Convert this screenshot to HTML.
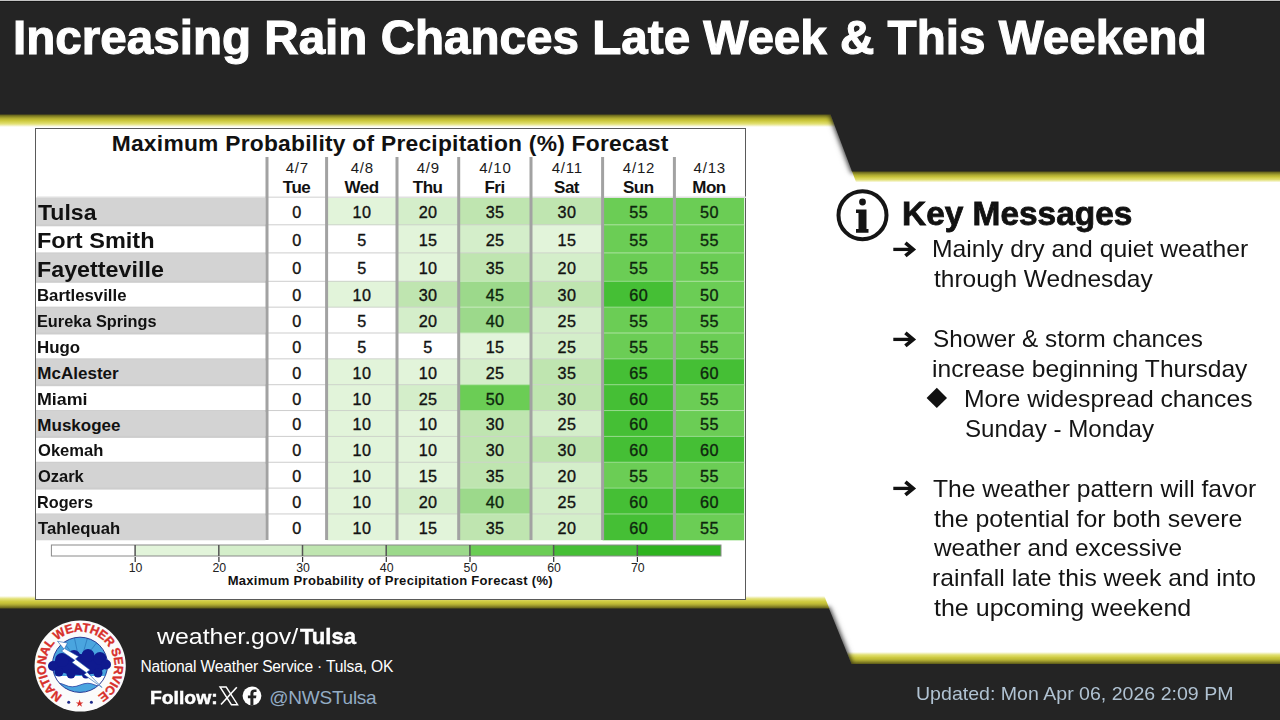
<!DOCTYPE html>
<html><head><meta charset="utf-8">
<style>
html,body{margin:0;padding:0;}
body{width:1280px;height:720px;overflow:hidden;position:relative;background:#fff;font-family:"Liberation Sans",sans-serif;}
.a{position:absolute;white-space:nowrap;line-height:1;}
b{font-weight:bold;}
</style></head><body>
<svg class="a" style="left:0;top:0" width="1280" height="720" viewBox="0 0 1280 720">
<defs>
<linearGradient id="yh" x1="0" y1="0" x2="0" y2="1">
<stop offset="0" stop-color="#c6c136"/><stop offset="0.55" stop-color="#d0cc3e"/><stop offset="0.78" stop-color="#e2e074"/><stop offset="1" stop-color="#ffffff"/>
</linearGradient>
<linearGradient id="yf" x1="0" y1="0" x2="0" y2="1">
<stop offset="0" stop-color="#ffffff"/><stop offset="0.22" stop-color="#e2e074"/><stop offset="0.45" stop-color="#d0cc3e"/><stop offset="1" stop-color="#c6c136"/>
</linearGradient>
<filter id="sh" x="-10%" y="-20%" width="120%" height="140%"><feGaussianBlur stdDeviation="2.2"/></filter><filter id="sh2" x="-10%" y="-20%" width="120%" height="140%"><feGaussianBlur stdDeviation="4"/></filter>
</defs>
<polygon points="0,113 830,113 835.3,127 0,127" fill="url(#yh)"/>
<polygon points="851.5,170 1280,170 1280,182.5 856.2,182.5" fill="url(#yh)"/>
<polygon points="-10,-10 1290,-10 1290,171.5 852,171.5 830.5,114.5 -10,114.5" fill="#000" opacity="0.3" filter="url(#sh2)"/><polygon points="-10,-10 1290,-10 1290,173 851,173 829.5,116 -10,116" fill="#000" opacity="0.6" filter="url(#sh)"/>
<polygon points="0,0 1280,0 1280,171.5 852,171.5 830.5,114.5 0,114.5" fill="#242424"/>
<polygon points="0,596 824.3,596 829.5,609 0,609" fill="url(#yf)"/>
<polygon points="846.6,652 1280,652 1280,665 851.8,665" fill="url(#yf)"/>
<polygon points="-10,608.5 829,608.5 851.5,664 1290,664 1290,730 -10,730" fill="#000" opacity="0.3" filter="url(#sh2)"/><polygon points="-10,607 830,607 852.5,662.5 1290,662.5 1290,730 -10,730" fill="#000" opacity="0.6" filter="url(#sh)"/>
<polygon points="0,608.5 829,608.5 851.5,664 1280,664 1280,720 0,720" fill="#242424"/>
</svg>
<div class="a" style="left:12.91px;top:13.57px;font-size:48px;color:#fff;font-weight:bold;transform:scaleX(0.9915);transform-origin:0 0;-webkit-text-stroke:1.1px #fff;">Increasing Rain Chances Late Week &amp; This Weekend</div>
<div class="a" style="left:0;top:0;width:1280px;height:1px;background:#c4c4c4"></div><div class="a" style="left:0;top:1px;width:1280px;height:1px;background:#161616"></div>
<div class="a" style="left:35px;top:128px;width:709px;height:470px;border:1px solid #5a5a5a;background:#fff;"></div>
<svg class="a" style="left:0;top:0" width="1280" height="720" viewBox="0 0 1280 720">
<rect x="36" y="197.5" width="229.5" height="27.80000000000001" fill="#d3d3d3"/>
<rect x="267" y="197.5" width="59.60000000000002" height="27.80000000000001" fill="#ffffff"/>
<rect x="326.6" y="197.5" width="70.39999999999998" height="27.80000000000001" fill="#e2f4da"/>
<rect x="397" y="197.5" width="61.69999999999999" height="27.80000000000001" fill="#d4eeca"/>
<rect x="458.7" y="197.5" width="72.30000000000001" height="27.80000000000001" fill="#bfe5b0"/>
<rect x="531" y="197.5" width="71.60000000000002" height="27.80000000000001" fill="#bfe5b0"/>
<rect x="602.6" y="197.5" width="71.79999999999995" height="27.80000000000001" fill="#6bcd55"/>
<rect x="674.4" y="197.5" width="69.80000000000007" height="27.80000000000001" fill="#6bcd55"/>
<rect x="36" y="224.3" width="231" height="2" fill="#cdcdcd"/>
<rect x="267" y="224.3" width="59.60000000000002" height="2" fill="#cdcdcd"/>
<rect x="326.6" y="224.3" width="70.39999999999998" height="2" fill="#cdd3ca"/>
<rect x="397" y="224.3" width="61.69999999999999" height="2" fill="#cdd3ca"/>
<rect x="458.7" y="224.3" width="72.30000000000001" height="2" fill="#cdd3ca"/>
<rect x="531" y="224.3" width="71.60000000000002" height="2" fill="#cdd3ca"/>
<rect x="602.6" y="224.3" width="71.79999999999995" height="2" fill="#ade3a1"/>
<rect x="674.4" y="224.3" width="69.80000000000007" height="2" fill="#ade3a1"/>
<rect x="267" y="225.3" width="59.60000000000002" height="28.099999999999994" fill="#ffffff"/>
<rect x="326.6" y="225.3" width="70.39999999999998" height="28.099999999999994" fill="#ffffff"/>
<rect x="397" y="225.3" width="61.69999999999999" height="28.099999999999994" fill="#e2f4da"/>
<rect x="458.7" y="225.3" width="72.30000000000001" height="28.099999999999994" fill="#d4eeca"/>
<rect x="531" y="225.3" width="71.60000000000002" height="28.099999999999994" fill="#e2f4da"/>
<rect x="602.6" y="225.3" width="71.79999999999995" height="28.099999999999994" fill="#6bcd55"/>
<rect x="674.4" y="225.3" width="69.80000000000007" height="28.099999999999994" fill="#6bcd55"/>
<rect x="36" y="252.4" width="231" height="2" fill="#cdcdcd"/>
<rect x="267" y="252.4" width="59.60000000000002" height="2" fill="#cdcdcd"/>
<rect x="326.6" y="252.4" width="70.39999999999998" height="2" fill="#cdcdcd"/>
<rect x="397" y="252.4" width="61.69999999999999" height="2" fill="#cdd3ca"/>
<rect x="458.7" y="252.4" width="72.30000000000001" height="2" fill="#cdd3ca"/>
<rect x="531" y="252.4" width="71.60000000000002" height="2" fill="#cdd3ca"/>
<rect x="602.6" y="252.4" width="71.79999999999995" height="2" fill="#ade3a1"/>
<rect x="674.4" y="252.4" width="69.80000000000007" height="2" fill="#ade3a1"/>
<rect x="36" y="253.4" width="229.5" height="28.400000000000006" fill="#d3d3d3"/>
<rect x="267" y="253.4" width="59.60000000000002" height="28.400000000000006" fill="#ffffff"/>
<rect x="326.6" y="253.4" width="70.39999999999998" height="28.400000000000006" fill="#ffffff"/>
<rect x="397" y="253.4" width="61.69999999999999" height="28.400000000000006" fill="#e2f4da"/>
<rect x="458.7" y="253.4" width="72.30000000000001" height="28.400000000000006" fill="#bfe5b0"/>
<rect x="531" y="253.4" width="71.60000000000002" height="28.400000000000006" fill="#d4eeca"/>
<rect x="602.6" y="253.4" width="71.79999999999995" height="28.400000000000006" fill="#6bcd55"/>
<rect x="674.4" y="253.4" width="69.80000000000007" height="28.400000000000006" fill="#6bcd55"/>
<rect x="36" y="280.8" width="231" height="2" fill="#cdcdcd"/>
<rect x="267" y="280.8" width="59.60000000000002" height="2" fill="#cdcdcd"/>
<rect x="326.6" y="280.8" width="70.39999999999998" height="2" fill="#cdd3ca"/>
<rect x="397" y="280.8" width="61.69999999999999" height="2" fill="#cdd3ca"/>
<rect x="458.7" y="280.8" width="72.30000000000001" height="2" fill="#c8eabf"/>
<rect x="531" y="280.8" width="71.60000000000002" height="2" fill="#cdd3ca"/>
<rect x="602.6" y="280.8" width="71.79999999999995" height="2" fill="#98db8f"/>
<rect x="674.4" y="280.8" width="69.80000000000007" height="2" fill="#ade3a1"/>
<rect x="267" y="281.8" width="59.60000000000002" height="25.849999999999966" fill="#ffffff"/>
<rect x="326.6" y="281.8" width="70.39999999999998" height="25.849999999999966" fill="#e2f4da"/>
<rect x="397" y="281.8" width="61.69999999999999" height="25.849999999999966" fill="#bfe5b0"/>
<rect x="458.7" y="281.8" width="72.30000000000001" height="25.849999999999966" fill="#9cd98b"/>
<rect x="531" y="281.8" width="71.60000000000002" height="25.849999999999966" fill="#bfe5b0"/>
<rect x="602.6" y="281.8" width="71.79999999999995" height="25.849999999999966" fill="#45bf35"/>
<rect x="674.4" y="281.8" width="69.80000000000007" height="25.849999999999966" fill="#6bcd55"/>
<rect x="36" y="306.65" width="231" height="2" fill="#cdcdcd"/>
<rect x="267" y="306.65" width="59.60000000000002" height="2" fill="#cdcdcd"/>
<rect x="326.6" y="306.65" width="70.39999999999998" height="2" fill="#cdd3ca"/>
<rect x="397" y="306.65" width="61.69999999999999" height="2" fill="#cdd3ca"/>
<rect x="458.7" y="306.65" width="72.30000000000001" height="2" fill="#c8eabf"/>
<rect x="531" y="306.65" width="71.60000000000002" height="2" fill="#cdd3ca"/>
<rect x="602.6" y="306.65" width="71.79999999999995" height="2" fill="#98db8f"/>
<rect x="674.4" y="306.65" width="69.80000000000007" height="2" fill="#ade3a1"/>
<rect x="36" y="307.65" width="229.5" height="25.850000000000023" fill="#d3d3d3"/>
<rect x="267" y="307.65" width="59.60000000000002" height="25.850000000000023" fill="#ffffff"/>
<rect x="326.6" y="307.65" width="70.39999999999998" height="25.850000000000023" fill="#ffffff"/>
<rect x="397" y="307.65" width="61.69999999999999" height="25.850000000000023" fill="#d4eeca"/>
<rect x="458.7" y="307.65" width="72.30000000000001" height="25.850000000000023" fill="#9cd98b"/>
<rect x="531" y="307.65" width="71.60000000000002" height="25.850000000000023" fill="#d4eeca"/>
<rect x="602.6" y="307.65" width="71.79999999999995" height="25.850000000000023" fill="#6bcd55"/>
<rect x="674.4" y="307.65" width="69.80000000000007" height="25.850000000000023" fill="#6bcd55"/>
<rect x="36" y="332.5" width="231" height="2" fill="#cdcdcd"/>
<rect x="267" y="332.5" width="59.60000000000002" height="2" fill="#cdcdcd"/>
<rect x="326.6" y="332.5" width="70.39999999999998" height="2" fill="#cdcdcd"/>
<rect x="397" y="332.5" width="61.69999999999999" height="2" fill="#cdd3ca"/>
<rect x="458.7" y="332.5" width="72.30000000000001" height="2" fill="#c8eabf"/>
<rect x="531" y="332.5" width="71.60000000000002" height="2" fill="#cdd3ca"/>
<rect x="602.6" y="332.5" width="71.79999999999995" height="2" fill="#ade3a1"/>
<rect x="674.4" y="332.5" width="69.80000000000007" height="2" fill="#ade3a1"/>
<rect x="267" y="333.5" width="59.60000000000002" height="25.850000000000023" fill="#ffffff"/>
<rect x="326.6" y="333.5" width="70.39999999999998" height="25.850000000000023" fill="#ffffff"/>
<rect x="397" y="333.5" width="61.69999999999999" height="25.850000000000023" fill="#ffffff"/>
<rect x="458.7" y="333.5" width="72.30000000000001" height="25.850000000000023" fill="#e2f4da"/>
<rect x="531" y="333.5" width="71.60000000000002" height="25.850000000000023" fill="#d4eeca"/>
<rect x="602.6" y="333.5" width="71.79999999999995" height="25.850000000000023" fill="#6bcd55"/>
<rect x="674.4" y="333.5" width="69.80000000000007" height="25.850000000000023" fill="#6bcd55"/>
<rect x="36" y="358.35" width="231" height="2" fill="#cdcdcd"/>
<rect x="267" y="358.35" width="59.60000000000002" height="2" fill="#cdcdcd"/>
<rect x="326.6" y="358.35" width="70.39999999999998" height="2" fill="#cdd3ca"/>
<rect x="397" y="358.35" width="61.69999999999999" height="2" fill="#cdd3ca"/>
<rect x="458.7" y="358.35" width="72.30000000000001" height="2" fill="#cdd3ca"/>
<rect x="531" y="358.35" width="71.60000000000002" height="2" fill="#cdd3ca"/>
<rect x="602.6" y="358.35" width="71.79999999999995" height="2" fill="#98db8f"/>
<rect x="674.4" y="358.35" width="69.80000000000007" height="2" fill="#98db8f"/>
<rect x="36" y="359.35" width="229.5" height="25.849999999999966" fill="#d3d3d3"/>
<rect x="267" y="359.35" width="59.60000000000002" height="25.849999999999966" fill="#ffffff"/>
<rect x="326.6" y="359.35" width="70.39999999999998" height="25.849999999999966" fill="#e2f4da"/>
<rect x="397" y="359.35" width="61.69999999999999" height="25.849999999999966" fill="#e2f4da"/>
<rect x="458.7" y="359.35" width="72.30000000000001" height="25.849999999999966" fill="#d4eeca"/>
<rect x="531" y="359.35" width="71.60000000000002" height="25.849999999999966" fill="#bfe5b0"/>
<rect x="602.6" y="359.35" width="71.79999999999995" height="25.849999999999966" fill="#45bf35"/>
<rect x="674.4" y="359.35" width="69.80000000000007" height="25.849999999999966" fill="#45bf35"/>
<rect x="36" y="384.2" width="231" height="2" fill="#cdcdcd"/>
<rect x="267" y="384.2" width="59.60000000000002" height="2" fill="#cdcdcd"/>
<rect x="326.6" y="384.2" width="70.39999999999998" height="2" fill="#cdd3ca"/>
<rect x="397" y="384.2" width="61.69999999999999" height="2" fill="#cdd3ca"/>
<rect x="458.7" y="384.2" width="72.30000000000001" height="2" fill="#ade3a1"/>
<rect x="531" y="384.2" width="71.60000000000002" height="2" fill="#cdd3ca"/>
<rect x="602.6" y="384.2" width="71.79999999999995" height="2" fill="#98db8f"/>
<rect x="674.4" y="384.2" width="69.80000000000007" height="2" fill="#98db8f"/>
<rect x="267" y="385.2" width="59.60000000000002" height="25.850000000000023" fill="#ffffff"/>
<rect x="326.6" y="385.2" width="70.39999999999998" height="25.850000000000023" fill="#e2f4da"/>
<rect x="397" y="385.2" width="61.69999999999999" height="25.850000000000023" fill="#d4eeca"/>
<rect x="458.7" y="385.2" width="72.30000000000001" height="25.850000000000023" fill="#6bcd55"/>
<rect x="531" y="385.2" width="71.60000000000002" height="25.850000000000023" fill="#bfe5b0"/>
<rect x="602.6" y="385.2" width="71.79999999999995" height="25.850000000000023" fill="#45bf35"/>
<rect x="674.4" y="385.2" width="69.80000000000007" height="25.850000000000023" fill="#6bcd55"/>
<rect x="36" y="410.05" width="231" height="2" fill="#cdcdcd"/>
<rect x="267" y="410.05" width="59.60000000000002" height="2" fill="#cdcdcd"/>
<rect x="326.6" y="410.05" width="70.39999999999998" height="2" fill="#cdd3ca"/>
<rect x="397" y="410.05" width="61.69999999999999" height="2" fill="#cdd3ca"/>
<rect x="458.7" y="410.05" width="72.30000000000001" height="2" fill="#ade3a1"/>
<rect x="531" y="410.05" width="71.60000000000002" height="2" fill="#cdd3ca"/>
<rect x="602.6" y="410.05" width="71.79999999999995" height="2" fill="#98db8f"/>
<rect x="674.4" y="410.05" width="69.80000000000007" height="2" fill="#ade3a1"/>
<rect x="36" y="411.05" width="229.5" height="25.849999999999966" fill="#d3d3d3"/>
<rect x="267" y="411.05" width="59.60000000000002" height="25.849999999999966" fill="#ffffff"/>
<rect x="326.6" y="411.05" width="70.39999999999998" height="25.849999999999966" fill="#e2f4da"/>
<rect x="397" y="411.05" width="61.69999999999999" height="25.849999999999966" fill="#e2f4da"/>
<rect x="458.7" y="411.05" width="72.30000000000001" height="25.849999999999966" fill="#bfe5b0"/>
<rect x="531" y="411.05" width="71.60000000000002" height="25.849999999999966" fill="#d4eeca"/>
<rect x="602.6" y="411.05" width="71.79999999999995" height="25.849999999999966" fill="#45bf35"/>
<rect x="674.4" y="411.05" width="69.80000000000007" height="25.849999999999966" fill="#6bcd55"/>
<rect x="36" y="435.9" width="231" height="2" fill="#cdcdcd"/>
<rect x="267" y="435.9" width="59.60000000000002" height="2" fill="#cdcdcd"/>
<rect x="326.6" y="435.9" width="70.39999999999998" height="2" fill="#cdd3ca"/>
<rect x="397" y="435.9" width="61.69999999999999" height="2" fill="#cdd3ca"/>
<rect x="458.7" y="435.9" width="72.30000000000001" height="2" fill="#cdd3ca"/>
<rect x="531" y="435.9" width="71.60000000000002" height="2" fill="#cdd3ca"/>
<rect x="602.6" y="435.9" width="71.79999999999995" height="2" fill="#98db8f"/>
<rect x="674.4" y="435.9" width="69.80000000000007" height="2" fill="#98db8f"/>
<rect x="267" y="436.9" width="59.60000000000002" height="25.850000000000023" fill="#ffffff"/>
<rect x="326.6" y="436.9" width="70.39999999999998" height="25.850000000000023" fill="#e2f4da"/>
<rect x="397" y="436.9" width="61.69999999999999" height="25.850000000000023" fill="#e2f4da"/>
<rect x="458.7" y="436.9" width="72.30000000000001" height="25.850000000000023" fill="#bfe5b0"/>
<rect x="531" y="436.9" width="71.60000000000002" height="25.850000000000023" fill="#bfe5b0"/>
<rect x="602.6" y="436.9" width="71.79999999999995" height="25.850000000000023" fill="#45bf35"/>
<rect x="674.4" y="436.9" width="69.80000000000007" height="25.850000000000023" fill="#45bf35"/>
<rect x="36" y="461.75" width="231" height="2" fill="#cdcdcd"/>
<rect x="267" y="461.75" width="59.60000000000002" height="2" fill="#cdcdcd"/>
<rect x="326.6" y="461.75" width="70.39999999999998" height="2" fill="#cdd3ca"/>
<rect x="397" y="461.75" width="61.69999999999999" height="2" fill="#cdd3ca"/>
<rect x="458.7" y="461.75" width="72.30000000000001" height="2" fill="#cdd3ca"/>
<rect x="531" y="461.75" width="71.60000000000002" height="2" fill="#cdd3ca"/>
<rect x="602.6" y="461.75" width="71.79999999999995" height="2" fill="#98db8f"/>
<rect x="674.4" y="461.75" width="69.80000000000007" height="2" fill="#98db8f"/>
<rect x="36" y="462.75" width="229.5" height="25.850000000000023" fill="#d3d3d3"/>
<rect x="267" y="462.75" width="59.60000000000002" height="25.850000000000023" fill="#ffffff"/>
<rect x="326.6" y="462.75" width="70.39999999999998" height="25.850000000000023" fill="#e2f4da"/>
<rect x="397" y="462.75" width="61.69999999999999" height="25.850000000000023" fill="#e2f4da"/>
<rect x="458.7" y="462.75" width="72.30000000000001" height="25.850000000000023" fill="#bfe5b0"/>
<rect x="531" y="462.75" width="71.60000000000002" height="25.850000000000023" fill="#d4eeca"/>
<rect x="602.6" y="462.75" width="71.79999999999995" height="25.850000000000023" fill="#6bcd55"/>
<rect x="674.4" y="462.75" width="69.80000000000007" height="25.850000000000023" fill="#6bcd55"/>
<rect x="36" y="487.6" width="231" height="2" fill="#cdcdcd"/>
<rect x="267" y="487.6" width="59.60000000000002" height="2" fill="#cdcdcd"/>
<rect x="326.6" y="487.6" width="70.39999999999998" height="2" fill="#cdd3ca"/>
<rect x="397" y="487.6" width="61.69999999999999" height="2" fill="#cdd3ca"/>
<rect x="458.7" y="487.6" width="72.30000000000001" height="2" fill="#c8eabf"/>
<rect x="531" y="487.6" width="71.60000000000002" height="2" fill="#cdd3ca"/>
<rect x="602.6" y="487.6" width="71.79999999999995" height="2" fill="#98db8f"/>
<rect x="674.4" y="487.6" width="69.80000000000007" height="2" fill="#98db8f"/>
<rect x="267" y="488.6" width="59.60000000000002" height="25.850000000000023" fill="#ffffff"/>
<rect x="326.6" y="488.6" width="70.39999999999998" height="25.850000000000023" fill="#e2f4da"/>
<rect x="397" y="488.6" width="61.69999999999999" height="25.850000000000023" fill="#d4eeca"/>
<rect x="458.7" y="488.6" width="72.30000000000001" height="25.850000000000023" fill="#9cd98b"/>
<rect x="531" y="488.6" width="71.60000000000002" height="25.850000000000023" fill="#d4eeca"/>
<rect x="602.6" y="488.6" width="71.79999999999995" height="25.850000000000023" fill="#45bf35"/>
<rect x="674.4" y="488.6" width="69.80000000000007" height="25.850000000000023" fill="#45bf35"/>
<rect x="36" y="513.45" width="231" height="2" fill="#cdcdcd"/>
<rect x="267" y="513.45" width="59.60000000000002" height="2" fill="#cdcdcd"/>
<rect x="326.6" y="513.45" width="70.39999999999998" height="2" fill="#cdd3ca"/>
<rect x="397" y="513.45" width="61.69999999999999" height="2" fill="#cdd3ca"/>
<rect x="458.7" y="513.45" width="72.30000000000001" height="2" fill="#c8eabf"/>
<rect x="531" y="513.45" width="71.60000000000002" height="2" fill="#cdd3ca"/>
<rect x="602.6" y="513.45" width="71.79999999999995" height="2" fill="#98db8f"/>
<rect x="674.4" y="513.45" width="69.80000000000007" height="2" fill="#98db8f"/>
<rect x="36" y="514.45" width="229.5" height="25.84999999999991" fill="#d3d3d3"/>
<rect x="267" y="514.45" width="59.60000000000002" height="25.84999999999991" fill="#ffffff"/>
<rect x="326.6" y="514.45" width="70.39999999999998" height="25.84999999999991" fill="#e2f4da"/>
<rect x="397" y="514.45" width="61.69999999999999" height="25.84999999999991" fill="#e2f4da"/>
<rect x="458.7" y="514.45" width="72.30000000000001" height="25.84999999999991" fill="#bfe5b0"/>
<rect x="531" y="514.45" width="71.60000000000002" height="25.84999999999991" fill="#d4eeca"/>
<rect x="602.6" y="514.45" width="71.79999999999995" height="25.84999999999991" fill="#45bf35"/>
<rect x="674.4" y="514.45" width="69.80000000000007" height="25.84999999999991" fill="#6bcd55"/>
<rect x="37" y="196.5" width="709" height="1.5" fill="#e0e0e0"/>
<rect x="265.5" y="157" width="3" height="383" fill="#a2a2a2"/>
<rect x="325.1" y="157" width="3" height="383" fill="#a2a2a2"/>
<rect x="395.5" y="157" width="3" height="383" fill="#a2a2a2"/>
<rect x="457.2" y="157" width="3" height="383" fill="#a2a2a2"/>
<rect x="529.5" y="157" width="3" height="383" fill="#a2a2a2"/>
<rect x="601.1" y="157" width="3" height="383" fill="#a2a2a2"/>
<rect x="672.9" y="157" width="3" height="383" fill="#a2a2a2"/>
<rect x="51.4" y="545" width="83.7" height="11" fill="#ffffff"/>
<rect x="135.1" y="545" width="83.7" height="11" fill="#e2f4da"/>
<rect x="218.8" y="545" width="83.7" height="11" fill="#d4eeca"/>
<rect x="302.5" y="545" width="83.7" height="11" fill="#bfe5b0"/>
<rect x="386.2" y="545" width="83.7" height="11" fill="#9cd98b"/>
<rect x="469.9" y="545" width="83.7" height="11" fill="#6bcd55"/>
<rect x="553.6" y="545" width="83.7" height="11" fill="#45bf35"/>
<rect x="637.3" y="545" width="83.7" height="11" fill="#2eb31e"/>
<rect x="51.4" y="545" width="669.6" height="11" fill="none" stroke="#8a8a8a" stroke-width="1"/>
<rect x="134.35" y="545" width="1.5" height="11" fill="#555"/>
<rect x="134.6" y="557" width="1.2" height="5" fill="#333"/>
<rect x="218.05" y="545" width="1.5" height="11" fill="#555"/>
<rect x="218.3" y="557" width="1.2" height="5" fill="#333"/>
<rect x="301.75" y="545" width="1.5" height="11" fill="#555"/>
<rect x="302.0" y="557" width="1.2" height="5" fill="#333"/>
<rect x="385.45" y="545" width="1.5" height="11" fill="#555"/>
<rect x="385.7" y="557" width="1.2" height="5" fill="#333"/>
<rect x="469.15" y="545" width="1.5" height="11" fill="#555"/>
<rect x="469.4" y="557" width="1.2" height="5" fill="#333"/>
<rect x="552.85" y="545" width="1.5" height="11" fill="#555"/>
<rect x="553.1" y="557" width="1.2" height="5" fill="#333"/>
<rect x="636.55" y="545" width="1.5" height="11" fill="#555"/>
<rect x="636.8" y="557" width="1.2" height="5" fill="#333"/>
</svg>
<div class="a" style="top:131.90px;font-size:22.8px;color:#111;letter-spacing:0.25px;font-weight:bold;left:90.20px;width:600px;text-align:center;">Maximum Probability of Precipitation (%) Forecast</div>
<div class="a" style="top:160.30px;font-size:15px;color:#1a1a1a;letter-spacing:0.8px;left:-2.70px;width:600px;text-align:center;">4/7</div>
<div class="a" style="top:178.71px;font-size:17px;color:#111;letter-spacing:-0.5px;font-weight:bold;left:-3.45px;width:600px;text-align:center;">Tue</div>
<div class="a" style="top:160.30px;font-size:15px;color:#1a1a1a;letter-spacing:0.8px;left:62.30px;width:600px;text-align:center;">4/8</div>
<div class="a" style="top:178.71px;font-size:17px;color:#111;letter-spacing:-0.5px;font-weight:bold;left:61.55px;width:600px;text-align:center;">Wed</div>
<div class="a" style="top:160.30px;font-size:15px;color:#1a1a1a;letter-spacing:0.8px;left:128.35px;width:600px;text-align:center;">4/9</div>
<div class="a" style="top:178.71px;font-size:17px;color:#111;letter-spacing:-0.5px;font-weight:bold;left:127.60px;width:600px;text-align:center;">Thu</div>
<div class="a" style="top:160.30px;font-size:15px;color:#1a1a1a;letter-spacing:0.8px;left:195.35px;width:600px;text-align:center;">4/10</div>
<div class="a" style="top:178.71px;font-size:17px;color:#111;letter-spacing:-0.5px;font-weight:bold;left:194.60px;width:600px;text-align:center;">Fri</div>
<div class="a" style="top:160.30px;font-size:15px;color:#1a1a1a;letter-spacing:0.8px;left:267.30px;width:600px;text-align:center;">4/11</div>
<div class="a" style="top:178.71px;font-size:17px;color:#111;letter-spacing:-0.5px;font-weight:bold;left:266.55px;width:600px;text-align:center;">Sat</div>
<div class="a" style="top:160.30px;font-size:15px;color:#1a1a1a;letter-spacing:0.8px;left:339.00px;width:600px;text-align:center;">4/12</div>
<div class="a" style="top:178.71px;font-size:17px;color:#111;letter-spacing:-0.5px;font-weight:bold;left:338.25px;width:600px;text-align:center;">Sun</div>
<div class="a" style="top:160.30px;font-size:15px;color:#1a1a1a;letter-spacing:0.8px;left:409.80px;width:600px;text-align:center;">4/13</div>
<div class="a" style="top:178.71px;font-size:17px;color:#111;letter-spacing:-0.5px;font-weight:bold;left:409.05px;width:600px;text-align:center;">Mon</div>
<div class="a" style="left:38.25px;top:202.42px;font-size:22.3px;color:#111;font-weight:bold;transform:scaleX(1.0339);transform-origin:0 0;">Tulsa</div>
<div class="a" style="top:203.89px;font-size:16.2px;color:#121212;letter-spacing:0.4px;left:-3.00px;width:600px;text-align:center;-webkit-text-stroke:0.35px #121212;">0</div>
<div class="a" style="top:203.89px;font-size:16.2px;color:#121212;letter-spacing:0.4px;left:62.00px;width:600px;text-align:center;-webkit-text-stroke:0.35px #121212;">10</div>
<div class="a" style="top:203.89px;font-size:16.2px;color:#121212;letter-spacing:0.4px;left:128.05px;width:600px;text-align:center;-webkit-text-stroke:0.35px #121212;">20</div>
<div class="a" style="top:203.89px;font-size:16.2px;color:#121212;letter-spacing:0.4px;left:195.05px;width:600px;text-align:center;-webkit-text-stroke:0.35px #121212;">35</div>
<div class="a" style="top:203.89px;font-size:16.2px;color:#121212;letter-spacing:0.4px;left:267.00px;width:600px;text-align:center;-webkit-text-stroke:0.35px #121212;">30</div>
<div class="a" style="top:203.89px;font-size:16.2px;color:#0e260e;letter-spacing:0.4px;left:338.70px;width:600px;text-align:center;-webkit-text-stroke:0.35px #0e260e;">55</div>
<div class="a" style="top:203.89px;font-size:16.2px;color:#0e260e;letter-spacing:0.4px;left:409.50px;width:600px;text-align:center;-webkit-text-stroke:0.35px #0e260e;">50</div>
<div class="a" style="left:36.93px;top:230.37px;font-size:22.3px;color:#111;font-weight:bold;transform:scaleX(1.0541);transform-origin:0 0;">Fort Smith</div>
<div class="a" style="top:231.84px;font-size:16.2px;color:#121212;letter-spacing:0.4px;left:-3.00px;width:600px;text-align:center;-webkit-text-stroke:0.35px #121212;">0</div>
<div class="a" style="top:231.84px;font-size:16.2px;color:#121212;letter-spacing:0.4px;left:62.00px;width:600px;text-align:center;-webkit-text-stroke:0.35px #121212;">5</div>
<div class="a" style="top:231.84px;font-size:16.2px;color:#121212;letter-spacing:0.4px;left:128.05px;width:600px;text-align:center;-webkit-text-stroke:0.35px #121212;">15</div>
<div class="a" style="top:231.84px;font-size:16.2px;color:#121212;letter-spacing:0.4px;left:195.05px;width:600px;text-align:center;-webkit-text-stroke:0.35px #121212;">25</div>
<div class="a" style="top:231.84px;font-size:16.2px;color:#121212;letter-spacing:0.4px;left:267.00px;width:600px;text-align:center;-webkit-text-stroke:0.35px #121212;">15</div>
<div class="a" style="top:231.84px;font-size:16.2px;color:#0e260e;letter-spacing:0.4px;left:338.70px;width:600px;text-align:center;-webkit-text-stroke:0.35px #0e260e;">55</div>
<div class="a" style="top:231.84px;font-size:16.2px;color:#0e260e;letter-spacing:0.4px;left:409.50px;width:600px;text-align:center;-webkit-text-stroke:0.35px #0e260e;">55</div>
<div class="a" style="left:36.94px;top:258.62px;font-size:22.3px;color:#111;font-weight:bold;transform:scaleX(1.0443);transform-origin:0 0;">Fayetteville</div>
<div class="a" style="top:260.09px;font-size:16.2px;color:#121212;letter-spacing:0.4px;left:-3.00px;width:600px;text-align:center;-webkit-text-stroke:0.35px #121212;">0</div>
<div class="a" style="top:260.09px;font-size:16.2px;color:#121212;letter-spacing:0.4px;left:62.00px;width:600px;text-align:center;-webkit-text-stroke:0.35px #121212;">5</div>
<div class="a" style="top:260.09px;font-size:16.2px;color:#121212;letter-spacing:0.4px;left:128.05px;width:600px;text-align:center;-webkit-text-stroke:0.35px #121212;">10</div>
<div class="a" style="top:260.09px;font-size:16.2px;color:#121212;letter-spacing:0.4px;left:195.05px;width:600px;text-align:center;-webkit-text-stroke:0.35px #121212;">35</div>
<div class="a" style="top:260.09px;font-size:16.2px;color:#121212;letter-spacing:0.4px;left:267.00px;width:600px;text-align:center;-webkit-text-stroke:0.35px #121212;">20</div>
<div class="a" style="top:260.09px;font-size:16.2px;color:#0e260e;letter-spacing:0.4px;left:338.70px;width:600px;text-align:center;-webkit-text-stroke:0.35px #0e260e;">55</div>
<div class="a" style="top:260.09px;font-size:16.2px;color:#0e260e;letter-spacing:0.4px;left:409.50px;width:600px;text-align:center;-webkit-text-stroke:0.35px #0e260e;">55</div>
<div class="a" style="left:37.38px;top:287.33px;font-size:17px;color:#111;font-weight:bold;transform:scaleX(0.9866);transform-origin:0 0;">Bartlesville</div>
<div class="a" style="top:287.21px;font-size:16.2px;color:#121212;letter-spacing:0.4px;left:-3.00px;width:600px;text-align:center;-webkit-text-stroke:0.35px #121212;">0</div>
<div class="a" style="top:287.21px;font-size:16.2px;color:#121212;letter-spacing:0.4px;left:62.00px;width:600px;text-align:center;-webkit-text-stroke:0.35px #121212;">10</div>
<div class="a" style="top:287.21px;font-size:16.2px;color:#121212;letter-spacing:0.4px;left:128.05px;width:600px;text-align:center;-webkit-text-stroke:0.35px #121212;">30</div>
<div class="a" style="top:287.21px;font-size:16.2px;color:#0e260e;letter-spacing:0.4px;left:195.05px;width:600px;text-align:center;-webkit-text-stroke:0.35px #0e260e;">45</div>
<div class="a" style="top:287.21px;font-size:16.2px;color:#121212;letter-spacing:0.4px;left:267.00px;width:600px;text-align:center;-webkit-text-stroke:0.35px #121212;">30</div>
<div class="a" style="top:287.21px;font-size:16.2px;color:#0e260e;letter-spacing:0.4px;left:338.70px;width:600px;text-align:center;-webkit-text-stroke:0.35px #0e260e;">60</div>
<div class="a" style="top:287.21px;font-size:16.2px;color:#0e260e;letter-spacing:0.4px;left:409.50px;width:600px;text-align:center;-webkit-text-stroke:0.35px #0e260e;">50</div>
<div class="a" style="left:37.41px;top:313.18px;font-size:17px;color:#111;font-weight:bold;transform:scaleX(0.9587);transform-origin:0 0;">Eureka Springs</div>
<div class="a" style="top:313.06px;font-size:16.2px;color:#121212;letter-spacing:0.4px;left:-3.00px;width:600px;text-align:center;-webkit-text-stroke:0.35px #121212;">0</div>
<div class="a" style="top:313.06px;font-size:16.2px;color:#121212;letter-spacing:0.4px;left:62.00px;width:600px;text-align:center;-webkit-text-stroke:0.35px #121212;">5</div>
<div class="a" style="top:313.06px;font-size:16.2px;color:#121212;letter-spacing:0.4px;left:128.05px;width:600px;text-align:center;-webkit-text-stroke:0.35px #121212;">20</div>
<div class="a" style="top:313.06px;font-size:16.2px;color:#0e260e;letter-spacing:0.4px;left:195.05px;width:600px;text-align:center;-webkit-text-stroke:0.35px #0e260e;">40</div>
<div class="a" style="top:313.06px;font-size:16.2px;color:#121212;letter-spacing:0.4px;left:267.00px;width:600px;text-align:center;-webkit-text-stroke:0.35px #121212;">25</div>
<div class="a" style="top:313.06px;font-size:16.2px;color:#0e260e;letter-spacing:0.4px;left:338.70px;width:600px;text-align:center;-webkit-text-stroke:0.35px #0e260e;">55</div>
<div class="a" style="top:313.06px;font-size:16.2px;color:#0e260e;letter-spacing:0.4px;left:409.50px;width:600px;text-align:center;-webkit-text-stroke:0.35px #0e260e;">55</div>
<div class="a" style="left:37.37px;top:339.03px;font-size:17px;color:#111;font-weight:bold;transform:scaleX(0.9920);transform-origin:0 0;">Hugo</div>
<div class="a" style="top:338.91px;font-size:16.2px;color:#121212;letter-spacing:0.4px;left:-3.00px;width:600px;text-align:center;-webkit-text-stroke:0.35px #121212;">0</div>
<div class="a" style="top:338.91px;font-size:16.2px;color:#121212;letter-spacing:0.4px;left:62.00px;width:600px;text-align:center;-webkit-text-stroke:0.35px #121212;">5</div>
<div class="a" style="top:338.91px;font-size:16.2px;color:#121212;letter-spacing:0.4px;left:128.05px;width:600px;text-align:center;-webkit-text-stroke:0.35px #121212;">5</div>
<div class="a" style="top:338.91px;font-size:16.2px;color:#121212;letter-spacing:0.4px;left:195.05px;width:600px;text-align:center;-webkit-text-stroke:0.35px #121212;">15</div>
<div class="a" style="top:338.91px;font-size:16.2px;color:#121212;letter-spacing:0.4px;left:267.00px;width:600px;text-align:center;-webkit-text-stroke:0.35px #121212;">25</div>
<div class="a" style="top:338.91px;font-size:16.2px;color:#0e260e;letter-spacing:0.4px;left:338.70px;width:600px;text-align:center;-webkit-text-stroke:0.35px #0e260e;">55</div>
<div class="a" style="top:338.91px;font-size:16.2px;color:#0e260e;letter-spacing:0.4px;left:409.50px;width:600px;text-align:center;-webkit-text-stroke:0.35px #0e260e;">55</div>
<div class="a" style="left:37.36px;top:364.88px;font-size:17px;color:#111;font-weight:bold;">McAlester</div>
<div class="a" style="top:364.76px;font-size:16.2px;color:#121212;letter-spacing:0.4px;left:-3.00px;width:600px;text-align:center;-webkit-text-stroke:0.35px #121212;">0</div>
<div class="a" style="top:364.76px;font-size:16.2px;color:#121212;letter-spacing:0.4px;left:62.00px;width:600px;text-align:center;-webkit-text-stroke:0.35px #121212;">10</div>
<div class="a" style="top:364.76px;font-size:16.2px;color:#121212;letter-spacing:0.4px;left:128.05px;width:600px;text-align:center;-webkit-text-stroke:0.35px #121212;">10</div>
<div class="a" style="top:364.76px;font-size:16.2px;color:#121212;letter-spacing:0.4px;left:195.05px;width:600px;text-align:center;-webkit-text-stroke:0.35px #121212;">25</div>
<div class="a" style="top:364.76px;font-size:16.2px;color:#121212;letter-spacing:0.4px;left:267.00px;width:600px;text-align:center;-webkit-text-stroke:0.35px #121212;">35</div>
<div class="a" style="top:364.76px;font-size:16.2px;color:#0e260e;letter-spacing:0.4px;left:338.70px;width:600px;text-align:center;-webkit-text-stroke:0.35px #0e260e;">65</div>
<div class="a" style="top:364.76px;font-size:16.2px;color:#0e260e;letter-spacing:0.4px;left:409.50px;width:600px;text-align:center;-webkit-text-stroke:0.35px #0e260e;">60</div>
<div class="a" style="left:37.30px;top:390.73px;font-size:17px;color:#111;font-weight:bold;transform:scaleX(1.0495);transform-origin:0 0;">Miami</div>
<div class="a" style="top:390.61px;font-size:16.2px;color:#121212;letter-spacing:0.4px;left:-3.00px;width:600px;text-align:center;-webkit-text-stroke:0.35px #121212;">0</div>
<div class="a" style="top:390.61px;font-size:16.2px;color:#121212;letter-spacing:0.4px;left:62.00px;width:600px;text-align:center;-webkit-text-stroke:0.35px #121212;">10</div>
<div class="a" style="top:390.61px;font-size:16.2px;color:#121212;letter-spacing:0.4px;left:128.05px;width:600px;text-align:center;-webkit-text-stroke:0.35px #121212;">25</div>
<div class="a" style="top:390.61px;font-size:16.2px;color:#0e260e;letter-spacing:0.4px;left:195.05px;width:600px;text-align:center;-webkit-text-stroke:0.35px #0e260e;">50</div>
<div class="a" style="top:390.61px;font-size:16.2px;color:#121212;letter-spacing:0.4px;left:267.00px;width:600px;text-align:center;-webkit-text-stroke:0.35px #121212;">30</div>
<div class="a" style="top:390.61px;font-size:16.2px;color:#0e260e;letter-spacing:0.4px;left:338.70px;width:600px;text-align:center;-webkit-text-stroke:0.35px #0e260e;">60</div>
<div class="a" style="top:390.61px;font-size:16.2px;color:#0e260e;letter-spacing:0.4px;left:409.50px;width:600px;text-align:center;-webkit-text-stroke:0.35px #0e260e;">55</div>
<div class="a" style="left:37.36px;top:416.58px;font-size:17px;color:#111;font-weight:bold;">Muskogee</div>
<div class="a" style="top:416.46px;font-size:16.2px;color:#121212;letter-spacing:0.4px;left:-3.00px;width:600px;text-align:center;-webkit-text-stroke:0.35px #121212;">0</div>
<div class="a" style="top:416.46px;font-size:16.2px;color:#121212;letter-spacing:0.4px;left:62.00px;width:600px;text-align:center;-webkit-text-stroke:0.35px #121212;">10</div>
<div class="a" style="top:416.46px;font-size:16.2px;color:#121212;letter-spacing:0.4px;left:128.05px;width:600px;text-align:center;-webkit-text-stroke:0.35px #121212;">10</div>
<div class="a" style="top:416.46px;font-size:16.2px;color:#121212;letter-spacing:0.4px;left:195.05px;width:600px;text-align:center;-webkit-text-stroke:0.35px #121212;">30</div>
<div class="a" style="top:416.46px;font-size:16.2px;color:#121212;letter-spacing:0.4px;left:267.00px;width:600px;text-align:center;-webkit-text-stroke:0.35px #121212;">25</div>
<div class="a" style="top:416.46px;font-size:16.2px;color:#0e260e;letter-spacing:0.4px;left:338.70px;width:600px;text-align:center;-webkit-text-stroke:0.35px #0e260e;">60</div>
<div class="a" style="top:416.46px;font-size:16.2px;color:#0e260e;letter-spacing:0.4px;left:409.50px;width:600px;text-align:center;-webkit-text-stroke:0.35px #0e260e;">55</div>
<div class="a" style="left:37.82px;top:442.43px;font-size:17px;color:#111;font-weight:bold;transform:scaleX(0.9750);transform-origin:0 0;">Okemah</div>
<div class="a" style="top:442.31px;font-size:16.2px;color:#121212;letter-spacing:0.4px;left:-3.00px;width:600px;text-align:center;-webkit-text-stroke:0.35px #121212;">0</div>
<div class="a" style="top:442.31px;font-size:16.2px;color:#121212;letter-spacing:0.4px;left:62.00px;width:600px;text-align:center;-webkit-text-stroke:0.35px #121212;">10</div>
<div class="a" style="top:442.31px;font-size:16.2px;color:#121212;letter-spacing:0.4px;left:128.05px;width:600px;text-align:center;-webkit-text-stroke:0.35px #121212;">10</div>
<div class="a" style="top:442.31px;font-size:16.2px;color:#121212;letter-spacing:0.4px;left:195.05px;width:600px;text-align:center;-webkit-text-stroke:0.35px #121212;">30</div>
<div class="a" style="top:442.31px;font-size:16.2px;color:#121212;letter-spacing:0.4px;left:267.00px;width:600px;text-align:center;-webkit-text-stroke:0.35px #121212;">30</div>
<div class="a" style="top:442.31px;font-size:16.2px;color:#0e260e;letter-spacing:0.4px;left:338.70px;width:600px;text-align:center;-webkit-text-stroke:0.35px #0e260e;">60</div>
<div class="a" style="top:442.31px;font-size:16.2px;color:#0e260e;letter-spacing:0.4px;left:409.50px;width:600px;text-align:center;-webkit-text-stroke:0.35px #0e260e;">60</div>
<div class="a" style="left:37.82px;top:468.28px;font-size:17px;color:#111;font-weight:bold;transform:scaleX(0.9686);transform-origin:0 0;">Ozark</div>
<div class="a" style="top:468.16px;font-size:16.2px;color:#121212;letter-spacing:0.4px;left:-3.00px;width:600px;text-align:center;-webkit-text-stroke:0.35px #121212;">0</div>
<div class="a" style="top:468.16px;font-size:16.2px;color:#121212;letter-spacing:0.4px;left:62.00px;width:600px;text-align:center;-webkit-text-stroke:0.35px #121212;">10</div>
<div class="a" style="top:468.16px;font-size:16.2px;color:#121212;letter-spacing:0.4px;left:128.05px;width:600px;text-align:center;-webkit-text-stroke:0.35px #121212;">15</div>
<div class="a" style="top:468.16px;font-size:16.2px;color:#121212;letter-spacing:0.4px;left:195.05px;width:600px;text-align:center;-webkit-text-stroke:0.35px #121212;">35</div>
<div class="a" style="top:468.16px;font-size:16.2px;color:#121212;letter-spacing:0.4px;left:267.00px;width:600px;text-align:center;-webkit-text-stroke:0.35px #121212;">20</div>
<div class="a" style="top:468.16px;font-size:16.2px;color:#0e260e;letter-spacing:0.4px;left:338.70px;width:600px;text-align:center;-webkit-text-stroke:0.35px #0e260e;">55</div>
<div class="a" style="top:468.16px;font-size:16.2px;color:#0e260e;letter-spacing:0.4px;left:409.50px;width:600px;text-align:center;-webkit-text-stroke:0.35px #0e260e;">55</div>
<div class="a" style="left:37.41px;top:494.13px;font-size:17px;color:#111;font-weight:bold;transform:scaleX(0.9554);transform-origin:0 0;">Rogers</div>
<div class="a" style="top:494.01px;font-size:16.2px;color:#121212;letter-spacing:0.4px;left:-3.00px;width:600px;text-align:center;-webkit-text-stroke:0.35px #121212;">0</div>
<div class="a" style="top:494.01px;font-size:16.2px;color:#121212;letter-spacing:0.4px;left:62.00px;width:600px;text-align:center;-webkit-text-stroke:0.35px #121212;">10</div>
<div class="a" style="top:494.01px;font-size:16.2px;color:#121212;letter-spacing:0.4px;left:128.05px;width:600px;text-align:center;-webkit-text-stroke:0.35px #121212;">20</div>
<div class="a" style="top:494.01px;font-size:16.2px;color:#0e260e;letter-spacing:0.4px;left:195.05px;width:600px;text-align:center;-webkit-text-stroke:0.35px #0e260e;">40</div>
<div class="a" style="top:494.01px;font-size:16.2px;color:#121212;letter-spacing:0.4px;left:267.00px;width:600px;text-align:center;-webkit-text-stroke:0.35px #121212;">25</div>
<div class="a" style="top:494.01px;font-size:16.2px;color:#0e260e;letter-spacing:0.4px;left:338.70px;width:600px;text-align:center;-webkit-text-stroke:0.35px #0e260e;">60</div>
<div class="a" style="top:494.01px;font-size:16.2px;color:#0e260e;letter-spacing:0.4px;left:409.50px;width:600px;text-align:center;-webkit-text-stroke:0.35px #0e260e;">60</div>
<div class="a" style="left:38.32px;top:519.98px;font-size:17px;color:#111;font-weight:bold;transform:scaleX(0.9818);transform-origin:0 0;">Tahlequah</div>
<div class="a" style="top:519.86px;font-size:16.2px;color:#121212;letter-spacing:0.4px;left:-3.00px;width:600px;text-align:center;-webkit-text-stroke:0.35px #121212;">0</div>
<div class="a" style="top:519.86px;font-size:16.2px;color:#121212;letter-spacing:0.4px;left:62.00px;width:600px;text-align:center;-webkit-text-stroke:0.35px #121212;">10</div>
<div class="a" style="top:519.86px;font-size:16.2px;color:#121212;letter-spacing:0.4px;left:128.05px;width:600px;text-align:center;-webkit-text-stroke:0.35px #121212;">15</div>
<div class="a" style="top:519.86px;font-size:16.2px;color:#121212;letter-spacing:0.4px;left:195.05px;width:600px;text-align:center;-webkit-text-stroke:0.35px #121212;">35</div>
<div class="a" style="top:519.86px;font-size:16.2px;color:#121212;letter-spacing:0.4px;left:267.00px;width:600px;text-align:center;-webkit-text-stroke:0.35px #121212;">20</div>
<div class="a" style="top:519.86px;font-size:16.2px;color:#0e260e;letter-spacing:0.4px;left:338.70px;width:600px;text-align:center;-webkit-text-stroke:0.35px #0e260e;">60</div>
<div class="a" style="top:519.86px;font-size:16.2px;color:#0e260e;letter-spacing:0.4px;left:409.50px;width:600px;text-align:center;-webkit-text-stroke:0.35px #0e260e;">55</div>
<div class="a" style="top:562.39px;font-size:12.3px;color:#222;left:-164.40px;width:600px;text-align:center;">10</div>
<div class="a" style="top:562.39px;font-size:12.3px;color:#222;left:-80.70px;width:600px;text-align:center;">20</div>
<div class="a" style="top:562.39px;font-size:12.3px;color:#222;left:3.00px;width:600px;text-align:center;">30</div>
<div class="a" style="top:562.39px;font-size:12.3px;color:#222;left:86.70px;width:600px;text-align:center;">40</div>
<div class="a" style="top:562.39px;font-size:12.3px;color:#222;left:170.40px;width:600px;text-align:center;">50</div>
<div class="a" style="top:562.39px;font-size:12.3px;color:#222;left:254.10px;width:600px;text-align:center;">60</div>
<div class="a" style="top:562.39px;font-size:12.3px;color:#222;left:337.80px;width:600px;text-align:center;">70</div>
<div class="a" style="top:574.00px;font-size:13px;color:#111;letter-spacing:0.3px;font-weight:bold;left:90.30px;width:600px;text-align:center;">Maximum Probability of Precipitation Forecast (%)</div>
<div class="a" style="left:901.86px;top:196.57px;font-size:33px;color:#111;font-weight:bold;transform:scaleX(1.0125);transform-origin:0 0;-webkit-text-stroke:0.8px #111;">Key Messages</div>
<div class="a" style="left:931.87px;top:238.49px;font-size:23.4px;color:#141414;transform:scaleX(1.0571);transform-origin:0 0;">Mainly dry and quiet weather</div>
<svg class="a" style="left:893px;top:240.8px" width="24" height="18" viewBox="0 0 24 18"><path d="M0.3 8.4H19" stroke="#111" stroke-width="3.3"/><path d="M12.4 1.9L20.2 8.4L12.4 14.9" fill="none" stroke="#111" stroke-width="3.7"/></svg>
<div class="a" style="left:933.53px;top:268.39px;font-size:23.4px;color:#141414;transform:scaleX(1.0469);transform-origin:0 0;">through Wednesday</div>
<div class="a" style="left:932.78px;top:328.19px;font-size:23.4px;color:#141414;transform:scaleX(1.0380);transform-origin:0 0;">Shower &amp; storm chances</div>
<svg class="a" style="left:893px;top:330.5px" width="24" height="18" viewBox="0 0 24 18"><path d="M0.3 8.4H19" stroke="#111" stroke-width="3.3"/><path d="M12.4 1.9L20.2 8.4L12.4 14.9" fill="none" stroke="#111" stroke-width="3.7"/></svg>
<div class="a" style="left:932.25px;top:358.09px;font-size:23.4px;color:#141414;transform:scaleX(1.0515);transform-origin:0 0;">increase beginning Thursday</div>
<div class="a" style="left:963.87px;top:387.99px;font-size:23.4px;color:#141414;transform:scaleX(1.0570);transform-origin:0 0;">More widespread chances</div>
<svg class="a" style="left:926px;top:387.2px" width="22" height="22" viewBox="0 0 22 22"><path d="M10.8 0.7L21 10.9L10.8 21.1L0.6 10.9Z" fill="#111"/></svg>
<div class="a" style="left:964.79px;top:417.89px;font-size:23.4px;color:#141414;transform:scaleX(1.0313);transform-origin:0 0;">Sunday - Monday</div>
<div class="a" style="left:933.36px;top:477.69px;font-size:23.4px;color:#141414;transform:scaleX(1.0535);transform-origin:0 0;">The weather pattern will favor</div>
<svg class="a" style="left:893px;top:480.0px" width="24" height="18" viewBox="0 0 24 18"><path d="M0.3 8.4H19" stroke="#111" stroke-width="3.3"/><path d="M12.4 1.9L20.2 8.4L12.4 14.9" fill="none" stroke="#111" stroke-width="3.7"/></svg>
<div class="a" style="left:933.53px;top:507.59px;font-size:23.4px;color:#141414;transform:scaleX(1.0637);transform-origin:0 0;">the potential for both severe</div>
<div class="a" style="left:933.92px;top:537.49px;font-size:23.4px;color:#141414;transform:scaleX(1.0425);transform-origin:0 0;">weather and excessive</div>
<div class="a" style="left:932.27px;top:567.39px;font-size:23.4px;color:#141414;transform:scaleX(1.0560);transform-origin:0 0;">rainfall late this week and into</div>
<div class="a" style="left:933.52px;top:597.29px;font-size:23.4px;color:#141414;transform:scaleX(1.0694);transform-origin:0 0;">the upcoming weekend</div>
<svg class="a" style="left:836px;top:189px" width="54" height="54" viewBox="0 0 54 54"><circle cx="26.5" cy="26.2" r="24" fill="none" stroke="#151515" stroke-width="4"/><circle cx="26.5" cy="13" r="3.4" fill="#151515"/><path d="M20 20.6H30.5V40H32.5V43.8H20V40H22.5V24H20Z" fill="#151515"/></svg>
<svg class="a" style="left:0;top:600px" width="200" height="120" viewBox="0 600 200 120">
<defs><clipPath id="ic"><circle cx="80" cy="664.8" r="27.6"/></clipPath></defs>
<circle cx="80.2" cy="666.0" r="45.6" fill="#fbfbfb"/>
<path id="tp" d="M62.53 695.40 A34.3 34.3 0 1 1 97.87 695.40" fill="none"/>
<text font-family="Liberation Sans" font-weight="bold" font-size="12.4" fill="#d8302b" stroke="#d8302b" stroke-width="0.35"><textPath href="#tp" startOffset="0" textLength="178.4" lengthAdjust="spacing">NATIONAL WEATHER SERVICE</textPath></text>
<g clip-path="url(#ic)">
<rect x="50" y="636" width="60" height="58" fill="#4aa5df"/>
<path d="M80 664 L62 640 M80 664 L74 636 M80 664 L88 636 M80 664 L98 641 M80 664 L106 652" stroke="#2f7fc0" stroke-width="0.9"/>
<path d="M50 676 H110 V694 H50Z" fill="#ffffff"/>
<path d="M50 684.5 Q58 681.5 65 685 T80 685 T95 685 T110 684.5 V694 H50Z" fill="#4aa5df" stroke="#1d2f9a" stroke-width="0.7"/>
</g>
<circle cx="80" cy="664.8" r="27.6" fill="none" stroke="#1d2a8a" stroke-width="0.9"/>
<g fill="#0f1a8f">
<ellipse cx="80" cy="664.5" rx="27" ry="10.5"/>
<circle cx="62" cy="660" r="7"/>
<circle cx="74" cy="656.5" r="6.5"/>
<circle cx="88" cy="655.5" r="6.5"/>
<circle cx="100" cy="658.5" r="6.5"/>
<circle cx="106" cy="664.5" r="5"/>
<circle cx="53" cy="666" r="5"/>
<circle cx="59" cy="672" r="4.5"/>
<circle cx="71" cy="674" r="4.5"/>
<circle cx="86" cy="674.5" r="4"/>
<circle cx="98" cy="673" r="4.5"/>
</g>
<path d="M57.5 641.3 L67.5 643 L64.5 648.5 L78.5 656.5 L75.5 659 L90 670 L87 672 L102 687.5 L84 674.5 L86.5 672.8 L72 662.5 L74.8 660.3 L61.5 651 L64 649 Z" fill="#ffffff" stroke="#2060b0" stroke-width="0.6"/>
<circle cx="68.7" cy="702.3" r="1.5" fill="#1d2a8a"/>
<circle cx="91.4" cy="702.3" r="1.5" fill="#1d2a8a"/>
<path d="M79.6 699.6 L80.6 702.4 L83.4 702.4 L81.1 704.1 L82 706.8 L79.6 705.1 L77.2 706.8 L78.1 704.1 L75.8 702.4 L78.6 702.4Z" fill="#d8302b"/>
</svg>
<svg class="a" style="left:0;top:600px" width="400" height="120" viewBox="0 600 400 120">
<path d="M220 687 L226.2 687 L237.6 704.7 L231.4 704.7 Z" fill="none" stroke="#fff" stroke-width="1.4"/>
<path d="M236.8 687.2 L221 704.5" stroke="#fff" stroke-width="1.6"/>
<circle cx="252" cy="695.8" r="9.4" fill="#fff"/>
<path d="M253.4 705.2 V698.2 H256 L256.4 695.4 H253.4 V693.6 C253.4 692.6 253.8 692.1 255 692.1 H256.5 V689.6 C256 689.5 255.2 689.4 254.3 689.4 C251.9 689.4 250.4 690.8 250.4 693.3 V695.4 H247.9 V698.2 H250.4 V705.2 Z" fill="#242424"/>
</svg>
<div class="a" style="left:157.32px;top:626.38px;font-size:22px;color:#fff;transform:scaleX(1.1316);transform-origin:0 0;">weather.gov/</div>
<div class="a" style="left:299.56px;top:626.38px;font-size:22px;color:#fff;font-weight:bold;transform:scaleX(1.0049);transform-origin:0 0;-webkit-text-stroke:0.4px #fff;">Tulsa</div>
<div class="a" style="top:659.09px;font-size:15.6px;color:#fff;letter-spacing:-0.17px;left:140.50px;">National Weather Service · Tulsa, OK</div>
<div class="a" style="left:149.50px;top:687.52px;font-size:19px;color:#fff;font-weight:bold;transform:scaleX(1.0176);transform-origin:0 0;-webkit-text-stroke:0.5px #fff;">Follow:</div>
<div class="a" style="top:687.52px;font-size:19px;color:#93acc4;letter-spacing:-0.25px;left:269.30px;">@NWSTulsa</div>
<div class="a" style="left:916.29px;top:684.02px;font-size:19px;color:#b0c2d2;transform:scaleX(1.0294);transform-origin:0 0;">Updated: Mon Apr 06, 2026 2:09 PM</div>
</body></html>
